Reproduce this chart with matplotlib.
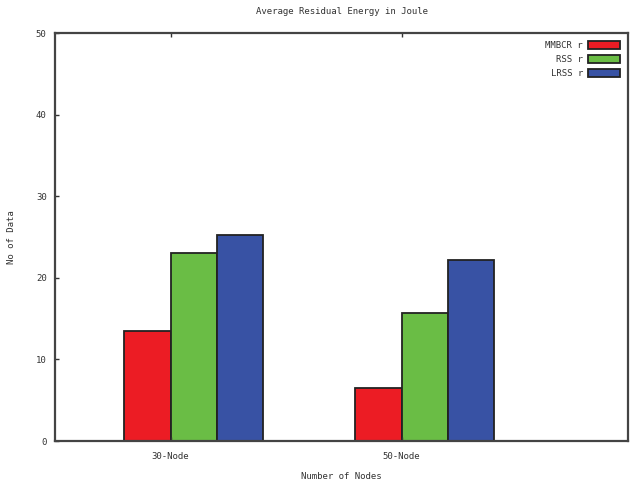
import matplotlib
matplotlib.use("Agg")
import matplotlib.pyplot as plt
import numpy as np

categories = ["30-Node", "50-Node"]
series_names = ["MMBCR r", "RSS r", "LRSS r"]
mmbcr = [13.5, 6.5]
rss = [23.0, 15.7]
lrss = [25.2, 22.2]
colors = ["#ec1c24", "#6abd45", "#3852a4"]
yticks = [0, 10, 20, 30, 40, 50]

fig = plt.figure(figsize=(6.32, 4.88), dpi=100)
ax = fig.add_axes([0.087, 0.0963, 0.907, 0.836])

x = np.arange(len(categories))
w = 0.2
offsets = [-0.1, 0.1, 0.3]
for vals, off, c, name in zip([mmbcr, rss, lrss], offsets, colors, series_names):
    ax.bar(x + off, vals, width=w, color=c, edgecolor="#222222", linewidth=1.3, label=name)

ax.set_xlim(-0.5, 1.98)
ax.set_ylim(0, 50)
ax.set_xticks(x)
ax.set_xticklabels(categories)
ax.set_yticks(yticks)
ax.tick_params(direction="in", length=3, width=1, labelsize=6.5, colors="#333333",
               top=True, right=False, pad=6)
ax.tick_params(axis="x", pad=8)
for s in ax.spines.values():
    s.set_linewidth(1.6)
    s.set_color("#444444")

fs = dict(fontsize=6.5, color="#333333", family="DejaVu Sans Mono")
ax.set_title("Average Residual Energy in Joule", pad=14, **fs)
ax.set_xlabel("Number of Nodes", labelpad=8, **fs)
ax.set_ylabel("No of Data", labelpad=14, **fs)
for lab in ax.get_xticklabels() + ax.get_yticklabels():
    lab.set_family("DejaVu Sans Mono")

leg = ax.legend(loc="upper right", frameon=False, fontsize=6.5, handlelength=3.6,
                handleheight=1.0, markerfirst=False, labelspacing=0.55,
                borderaxespad=0.5, handletextpad=0.5)
for t in leg.get_texts():
    t.set_color("#333333")
    t.set_family("DejaVu Sans Mono")

fig.savefig("out.png", dpi=100)
